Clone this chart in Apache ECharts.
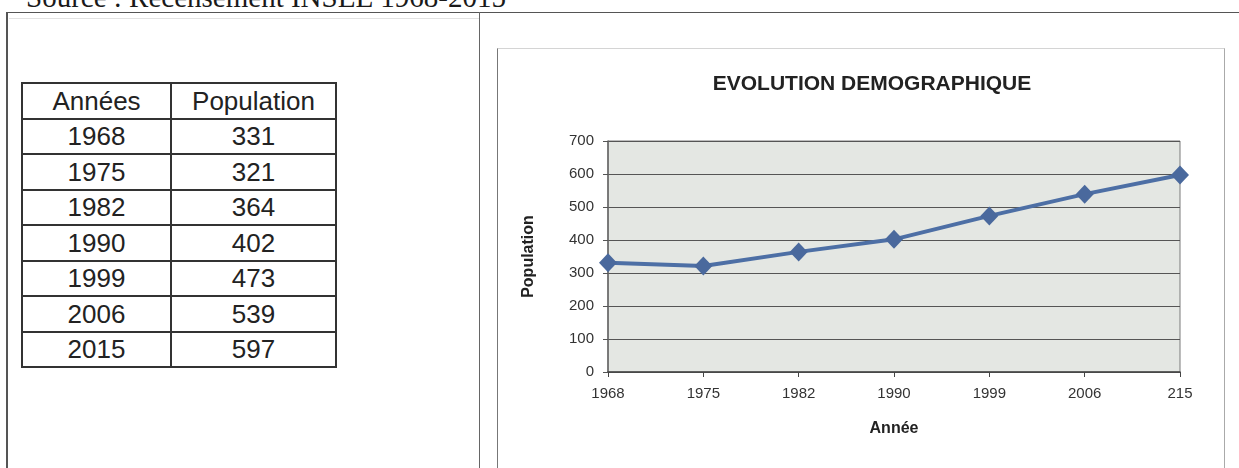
<!DOCTYPE html>
<html lang="fr">
<head>
<meta charset="utf-8">
<title>Evolution démographique</title>
<script src="https://cdn.jsdelivr.net/npm/echarts@6/dist/echarts.min.js"></script>
<style>
  html, body { margin: 0; padding: 0; background: #fff; }
  #page { position: relative; width: 1239px; height: 468px; overflow: hidden; background: #fff; }
  .src { position: absolute; left: 26px; top: -17px; font: 29px/29px "Liberation Serif", "Times New Roman", serif; color: #1a1a1a; white-space: nowrap; }
  .ln { position: absolute; }
  table.pop { position: absolute; left: 21px; top: 82px; border-collapse: collapse; font-family: "Liberation Sans", Arial, sans-serif; font-size: 26px; color: #222; }
  table.pop td { border: 2px solid #333; padding: 0; height: 33.5px; text-align: center; line-height: 26px; }
  table.pop td.c1 { width: 147px; }
  table.pop td.c2 { width: 163px; }
  #chart { position: absolute; left: 0; top: 0; width: 1239px; height: 468px; }
</style>
</head>
<body>
<div id="page">
  <div class="src">Source : Recensement INSEE 1968-2015</div>
  <!-- frame around the two panels -->
  <div class="ln" style="left:7px; top:12px; width:1240px; height:0; border-top:1.5px solid #555;"></div>
  <div class="ln" style="left:9px; top:18px; width:470px; height:0; border-top:1px solid #e2e2e2;"></div>
  <div class="ln" style="left:6px; top:12px; width:0; height:460px; border-left:2px solid #555;"></div>
  <div class="ln" style="left:479px; top:12px; width:0; height:460px; border-left:1.5px solid #666;"></div>
  <!-- chart box -->
  <div class="ln" style="left:497px; top:48px; width:726px; height:430px; border-left:1.5px solid #777; border-top:1px solid #d4d4d4; border-right:1.5px solid #aaa;"></div>
  <table class="pop" id="tbl"></table>
  <div id="chart"></div>
</div>
<script>
// Recensement : années et population
const tableHeader = ['Années', 'Population'];
const years = ['1968', '1975', '1982', '1990', '1999', '2006', '2015'];
const population = [331, 321, 364, 402, 473, 539, 597];
// libellés de l'axe des abscisses du graphique
const axisYears = ['1968', '1975', '1982', '1990', '1999', '2006', '215'];

// tableau
const tbl = document.getElementById('tbl');
let html = '<tr><td class="c1">' + tableHeader[0] + '</td><td class="c2">' + tableHeader[1] + '</td></tr>';
years.forEach((y, i) => {
  html += '<tr><td class="c1">' + y + '</td><td class="c2">' + population[i] + '</td></tr>';
});
tbl.innerHTML = html;

// graphique
const chart = echarts.init(document.getElementById('chart'), null, { renderer: 'canvas' });
const font = '"Liberation Sans", Arial, sans-serif';
chart.setOption({
  animation: false,
  backgroundColor: 'transparent',
  title: {
    text: 'EVOLUTION DEMOGRAPHIQUE',
    left: 867,
    top: 69,
    textAlign: 'center',
    textStyle: { fontFamily: font, fontSize: 21, fontWeight: 'bold', color: '#222' }
  },
  grid: {
    left: 608, top: 141, width: 572, height: 231,
    show: true,
    backgroundColor: '#e4e7e3',
    borderColor: '#7a7a7a',
    borderWidth: 1
  },
  xAxis: {
    type: 'category',
    data: axisYears,
    boundaryGap: false,
    name: 'Année',
    nameLocation: 'middle',
    nameGap: 49,
    nameTextStyle: { fontFamily: font, fontSize: 16, fontWeight: 'bold', color: '#222' },
    axisLine: { lineStyle: { color: '#444', width: 1.5 } },
    axisTick: { show: true, length: 5, lineStyle: { color: '#444' } },
    axisLabel: { margin: 14, fontFamily: font, fontSize: 15, color: '#333' },
    splitLine: { show: false }
  },
  yAxis: {
    type: 'value',
    min: 0, max: 700, interval: 100,
    name: 'Population',
    nameLocation: 'middle',
    nameRotate: 90,
    nameGap: 71,
    nameTextStyle: { fontFamily: font, fontSize: 16, fontWeight: 'bold', color: '#222' },
    axisLine: { show: true, lineStyle: { color: '#666', width: 1.5 } },
    axisTick: { show: true, length: 5, lineStyle: { color: '#555' } },
    axisLabel: { margin: 14, fontFamily: font, fontSize: 15, color: '#333' },
    splitLine: { show: true, lineStyle: { color: '#555', width: 1 } }
  },
  series: [{
    type: 'line',
    data: population,
    symbol: 'diamond',
    symbolSize: [18, 19],
    lineStyle: { color: '#4d6fa5', width: 4 },
    itemStyle: { color: '#4a699d' },
    z: 3
  }]
});
</script>
</body>
</html>
